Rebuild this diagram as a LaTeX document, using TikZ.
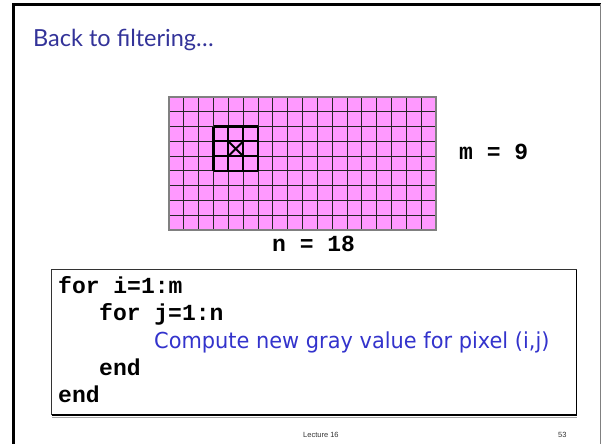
\documentclass[tikz,border=0pt]{standalone}
\usepackage{fontspec}
\newfontfamily\titlefont{Lato}
\newfontfamily\codefont{Liberation Mono}
\newfontfamily\comicfont{DejaVu Sans}
\newfontfamily\smallfont{Liberation Sans}
\definecolor{titleblue}{HTML}{333399}
\definecolor{comicblue}{HTML}{3333CC}
\definecolor{pixpink}{HTML}{FF99FF}
\tikzset{
  txt/.style={inner sep=0pt, anchor=base west},
  code/.style={txt, font=\codefont\bfseries\fontsize{23}{23}\selectfont},
}
\begin{document}
\begin{tikzpicture}[x=1pt,y=-1pt]
\useasboundingbox (0,0) rectangle (602,444);
% slide frame
\draw[line width=3pt] (13.5,460) -- (13.5,4.5) -- (600.5,4.5);
\draw[line width=1.5pt, gray] (600.5,4.5) -- (600.5,460);
% title
\node[txt, text=titleblue, font=\titlefont\fontsize{23.5}{23.5}\selectfont] (title) at (33,47) {Back to filtering…};
% grid
\def\gx{169}\def\gy{97}\def\cw{14.833}\def\ch{14.78}
\fill[pixpink] (\gx,\gy) rectangle ({\gx+18*\cw},{\gy+9*\ch});
\foreach \i in {1,...,17} \draw[line width=0.9pt, black!85] ({\gx+\i*\cw},\gy) -- ({\gx+\i*\cw},{\gy+9*\ch});
\foreach \j in {1,...,8} \draw[line width=0.9pt, black!85] (\gx,{\gy+\j*\ch}) -- ({\gx+18*\cw},{\gy+\j*\ch});
\draw[line width=1.2pt, gray] (\gx,\gy) rectangle ({\gx+18*\cw},{\gy+9*\ch});
% 3x3 window
\foreach \i in {3,...,6} \draw[line width=2.3pt] ({\gx+\i*\cw},{\gy+2*\ch}) -- ({\gx+\i*\cw},{\gy+5*\ch});
\foreach \j in {2,...,5} \draw[line width=2.3pt] ({\gx+3*\cw},{\gy+\j*\ch}) -- ({\gx+6*\cw},{\gy+\j*\ch});
\draw[line width=2pt] ({\gx+4*\cw},{\gy+3*\ch}) -- ({\gx+5*\cw},{\gy+4*\ch});
\draw[line width=2pt] ({\gx+5*\cw},{\gy+3*\ch}) -- ({\gx+4*\cw},{\gy+4*\ch});
% labels
\node[code] (m) at (459,159) {m = 9};
\node[code] (n) at (272,251) {n = 18};
% code box
\draw[line width=1.2pt, black!80] (51.5,415) -- (51.5,269.5) -- (576.5,269.5);
\draw[line width=1.8pt] (576.5,269.5) -- (576.5,415) -- (51.5,415);
\draw[line width=0.8pt, black!35] (52,417) -- (577,417);
\node[code] (l1) at (58,293) {for i=1:m};
\node[code] (l2) at (99,320) {for j=1:n};
\node[txt, text=comicblue, font=\comicfont\fontsize{22}{22}\selectfont] (l3) at (154,348) {\scalebox{0.95}[1]{Compute new gray value for pixel (i,j)}};
\node[code] (l4) at (99,375) {end};
\node[code] (l5) at (58,402) {end};
% footer
\node[txt, font=\smallfont\fontsize{7.5}{7.5}\selectfont, text=black!80] (lec) at (303,437) {Lecture 16};
\node[txt, font=\smallfont\fontsize{7.5}{7.5}\selectfont, text=black!80] (num) at (558,437) {53};
\end{tikzpicture}
\end{document}
